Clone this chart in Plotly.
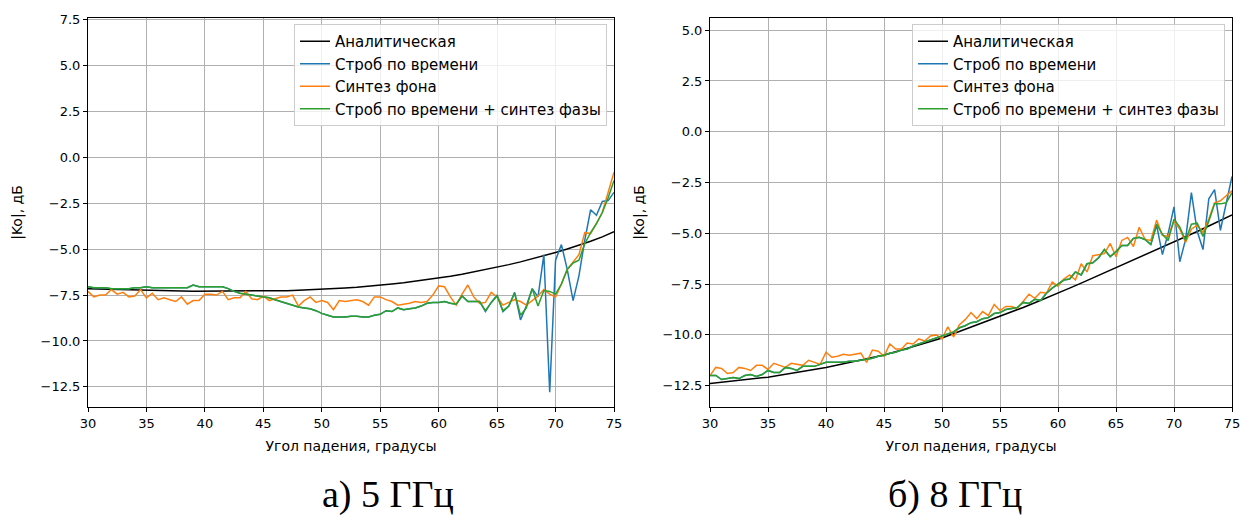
import numpy as np
import plotly.graph_objects as go

# ---------------- data ----------------
angles = np.arange(30, 75.5, 0.5)          # 91 sample angles (degrees)
angles_an = np.arange(30, 76, 1)           # analytical curve samples

# 5 GHz
analytic_5 = [-7.15, -7.17, -7.19, -7.21, -7.23, -7.25, -7.26, -7.27, -7.28, -7.29,
              -7.29, -7.30, -7.30, -7.30, -7.30, -7.29, -7.28, -7.26, -7.24, -7.22,
              -7.19, -7.16, -7.12, -7.08, -7.03, -6.97, -6.90, -6.83, -6.75, -6.66,
              -6.57, -6.47, -6.36, -6.24, -6.12, -5.98, -5.84, -5.69, -5.53, -5.36,
              -5.18, -4.99, -4.79, -4.57, -4.33, -4.05]
gate_5 = [-7.05, -7.1, -7.1, -7.1, -7.15, -7.15, -7.15, -7.15, -7.1, -7.1,
          -7.05, -7.1, -7.1, -7.1, -7.1, -7.1, -7.1, -7.1, -6.95, -7.05,
          -7.05, -7.05, -7.05, -7.05, -7.15, -7.3, -7.4, -7.45, -7.5, -7.55,
          -7.6, -7.65, -7.75, -7.85, -7.95, -8.05, -8.15, -8.2, -8.25, -8.35,
          -8.5, -8.6, -8.7, -8.7, -8.7, -8.65, -8.65, -8.7, -8.7, -8.6,
          -8.55, -8.35, -8.4, -8.2, -8.3, -8.25, -8.2, -8.1, -7.95, -7.9,
          -7.9, -7.85, -7.95, -8.0, -7.55, -7.85, -7.85, -7.85, -8.4, -7.9,
          -7.5, -8.4, -8.1, -7.35, -8.85, -8.1, -7.15, -7.6, -5.3, -12.8,
          -5.6, -4.75, -6.1, -7.8, -6.45, -4.5, -2.85, -3.15, -2.4, -2.35,
          -1.9]
background_5 = [-7.3, -7.6, -7.5, -7.5, -7.2, -7.45, -7.35, -7.6, -7.55, -7.2,
                -7.65, -7.4, -7.75, -7.65, -7.75, -7.85, -7.6, -8.0, -7.8, -7.8,
                -7.45, -7.45, -7.5, -7.3, -7.75, -7.65, -7.65, -7.3, -7.7, -7.75,
                -7.55, -7.8, -7.7, -7.6, -7.6, -7.5, -8.1, -7.8, -7.6, -7.9,
                -7.8, -7.9, -8.3, -7.8, -7.85, -7.8, -7.75, -7.85, -8.05, -7.6,
                -7.6, -7.75, -7.85, -8.05, -8.0, -7.95, -7.85, -7.9, -7.85, -7.5,
                -7.0, -7.05, -7.6, -8.05, -7.45, -6.95, -7.6, -7.95, -7.9, -7.35,
                -7.6, -8.05, -7.9, -7.75, -7.85, -8.05, -7.8, -7.55, -7.2, -7.45,
                -7.6, -6.9, -6.1, -5.7, -5.3, -4.1, -4.15, -3.6, -3.0, -1.9,
                -0.8]
combo_5 = [-7.05, -7.1, -7.1, -7.1, -7.15, -7.15, -7.15, -7.15, -7.1, -7.1,
           -7.05, -7.1, -7.1, -7.1, -7.1, -7.1, -7.1, -7.1, -6.95, -7.05,
           -7.05, -7.05, -7.05, -7.05, -7.15, -7.3, -7.4, -7.45, -7.5, -7.55,
           -7.6, -7.65, -7.75, -7.85, -7.95, -8.05, -8.15, -8.2, -8.25, -8.35,
           -8.5, -8.6, -8.7, -8.7, -8.7, -8.65, -8.65, -8.7, -8.7, -8.6,
           -8.55, -8.35, -8.4, -8.2, -8.3, -8.25, -8.2, -8.1, -7.95, -7.9,
           -7.9, -7.85, -7.95, -8.0, -7.55, -7.85, -7.85, -7.85, -8.35, -7.9,
           -7.55, -8.35, -8.1, -7.4, -8.6, -8.2, -7.15, -8.1, -7.25, -7.3,
           -7.45, -6.9, -6.1, -5.75, -5.6, -4.7, -4.1, -3.6, -3.0, -2.2,
           -1.25]

# 8 GHz
analytic_8 = [-12.39, -12.33, -12.27, -12.21, -12.15, -12.08, -11.99, -11.90, -11.80, -11.70,
              -11.60, -11.48, -11.36, -11.24, -11.12, -10.99, -10.83, -10.67, -10.50, -10.33,
              -10.15, -9.94, -9.73, -9.52, -9.31, -9.10, -8.87, -8.65, -8.42, -8.19,
              -7.95, -7.70, -7.45, -7.20, -6.95, -6.70, -6.45, -6.20, -5.95, -5.70,
              -5.45, -5.18, -4.91, -4.64, -4.37, -4.10]
gate_8 = [-12.0, -12.0, -12.2, -12.15, -12.1, -12.15, -12.0, -11.95, -12.05, -11.95,
          -11.75, -11.85, -11.85, -11.6, -11.65, -11.75, -11.55, -11.55, -11.55, -11.45,
          -11.35, -11.35, -11.35, -11.35, -11.3, -11.3, -11.25, -11.2, -11.15, -11.05,
          -11.0, -10.9, -10.85, -10.75, -10.7, -10.55, -10.45, -10.35, -10.25, -10.15,
          -10.05, -9.95, -9.85, -9.65, -9.55, -9.4, -9.35, -9.2, -9.15, -8.95,
          -8.9, -8.75, -8.7, -8.65, -8.4, -8.45, -8.25, -8.3, -7.95, -7.7,
          -7.5, -7.3, -7.25, -6.9, -7.05, -6.5, -6.45, -6.2, -5.8, -6.15,
          -5.9, -5.6, -5.6, -5.25, -5.2, -5.3, -5.55, -4.6, -6.05, -5.0,
          -3.7, -6.4, -5.3, -3.0, -4.9, -5.8, -3.3, -2.85, -4.85, -3.6,
          -2.2]
background_8 = [-12.0, -11.6, -11.65, -11.9, -11.85, -11.6, -11.65, -11.75, -11.5, -11.5,
                -11.7, -11.4, -11.5, -11.6, -11.4, -11.45, -11.5, -11.25, -11.35, -11.45,
                -10.85, -11.1, -11.05, -10.95, -11.0, -10.95, -10.9, -11.35, -10.75, -10.8,
                -11.05, -10.45, -10.7, -10.7, -10.4, -10.45, -10.2, -10.3, -10.05, -10.0,
                -10.2, -9.6, -10.1, -9.5, -9.25, -8.9, -9.2, -8.85, -9.05, -8.5,
                -8.8, -8.6, -8.6, -8.7, -8.35, -8.0, -8.2, -7.9, -7.95, -7.4,
                -7.6, -7.25, -7.05, -7.3, -6.5, -6.9, -6.1, -6.05, -6.0, -5.5,
                -6.15, -5.35, -5.2, -5.65, -4.7, -5.3, -5.35, -4.35, -5.1, -5.15,
                -4.4, -4.8, -5.45, -4.8, -4.6, -4.95, -4.3, -3.5, -3.4, -3.15,
                -2.9]
combo_8 = [-12.0, -12.0, -12.2, -12.15, -12.1, -12.15, -12.0, -11.95, -12.05, -11.95,
           -11.75, -11.85, -11.85, -11.6, -11.65, -11.75, -11.55, -11.55, -11.55, -11.45,
           -11.35, -11.35, -11.35, -11.35, -11.3, -11.3, -11.25, -11.2, -11.15, -11.05,
           -11.0, -10.9, -10.85, -10.75, -10.7, -10.55, -10.45, -10.35, -10.25, -10.15,
           -10.05, -9.95, -9.85, -9.65, -9.55, -9.4, -9.35, -9.2, -9.15, -8.95,
           -8.9, -8.75, -8.7, -8.65, -8.4, -8.45, -8.25, -8.3, -7.95, -7.7,
           -7.5, -7.3, -7.25, -6.9, -7.05, -6.5, -6.45, -6.2, -5.8, -6.15,
           -5.9, -5.6, -5.6, -5.25, -5.2, -5.3, -5.55, -4.55, -5.05, -5.35,
           -4.3, -4.7, -5.35, -4.55, -4.5, -5.15, -4.4, -3.55, -3.55, -3.5,
           -3.0]

names = ["Аналитическая", "Строб по времени", "Синтез фона", "Строб по времени + синтез фазы"]
colors = ["#000000", "#1f77b4", "#ff7f0e", "#2ca02c"]
captions = ["а) 5 ГГц", "б) 8 ГГц"]
x_title = "Угол падения, градусы"
y_title = "|Ko|, дБ"
y_ranges = [[-13.6, 7.6], [-13.55, 5.6]]

# ---------------- figure ----------------
W, H = 1242, 519
fig = go.Figure()

panels = [
    (analytic_5, gate_5, background_5, combo_5, "x", "y", "legend", "a"),
    (analytic_8, gate_8, background_8, combo_8, "x2", "y2", "legend2", "b"),
]
for an, ga, bg, co, xa, ya, lg, tag in panels:
    series = [(angles_an, an), (angles, ga), (angles, bg), (angles, co)]
    for i, ((xs, ys), nm, c) in enumerate(zip(series, names, colors)):
        fig.add_trace(go.Scatter(x=xs, y=ys, mode="lines", name=nm,
                                 line=dict(color=c, width=1.5),
                                 legendgroup=f"{tag}{i}",
                                 xaxis=xa, yaxis=ya, legend=lg))

font = "DejaVu Sans, sans-serif"
ydom = [1 - 407 / H, 1 - 18 / H]
xdoms = [[88 / W, 614 / W], [710 / W, 1232 / W]]

axis_common = dict(showline=True, linecolor="black", linewidth=1, mirror=True,
                   ticks="outside", ticklen=4, tickcolor="black",
                   showgrid=True, gridcolor="#b0b0b0", gridwidth=1, automargin=False,
                   zeroline=False, tickfont=dict(family=font, size=13, color="black"))
title_font = dict(family=font, size=14, color="black")

legend_common = dict(bgcolor="rgba(255,255,255,0.8)", bordercolor="#cccccc", borderwidth=1,
                     font=dict(family=font, size=15, color="black"),
                     xanchor="right", yanchor="top", tracegroupgap=0, itemwidth=30)

fig.update_layout(
    width=W, height=H, margin=dict(l=0, r=0, t=0, b=0),
    paper_bgcolor="white", plot_bgcolor="white",
    showlegend=True,
    xaxis=dict(domain=xdoms[0], range=[30, 75], dtick=5, anchor="y",
               title=dict(text=x_title, font=title_font, standoff=11), **axis_common),
    yaxis=dict(domain=ydom, range=y_ranges[0], dtick=2.5, tickformat=".1f", anchor="x",
               title=dict(text=y_title, font=title_font, standoff=14), **axis_common),
    xaxis2=dict(domain=xdoms[1], range=[30, 75], dtick=5, anchor="y2",
                title=dict(text=x_title, font=title_font, standoff=11), **axis_common),
    yaxis2=dict(domain=ydom, range=y_ranges[1], dtick=2.5, tickformat=".1f", anchor="x2",
                title=dict(text=y_title, font=title_font, standoff=14), **axis_common),
    legend=dict(x=607 / W, y=1 - 24 / H, **legend_common),
    legend2=dict(x=1225 / W, y=1 - 24 / H, **legend_common),
)

for cap, xc in zip(captions, [388, 955]):
    fig.add_annotation(text=cap, xref="paper", yref="paper",
                       x=xc / W, y=1 - 494 / H,
                       xanchor="center", yanchor="middle", showarrow=False,
                       font=dict(family="Liberation Serif, Times New Roman, serif", size=38, color="black"))

fig.write_html("out.html")
